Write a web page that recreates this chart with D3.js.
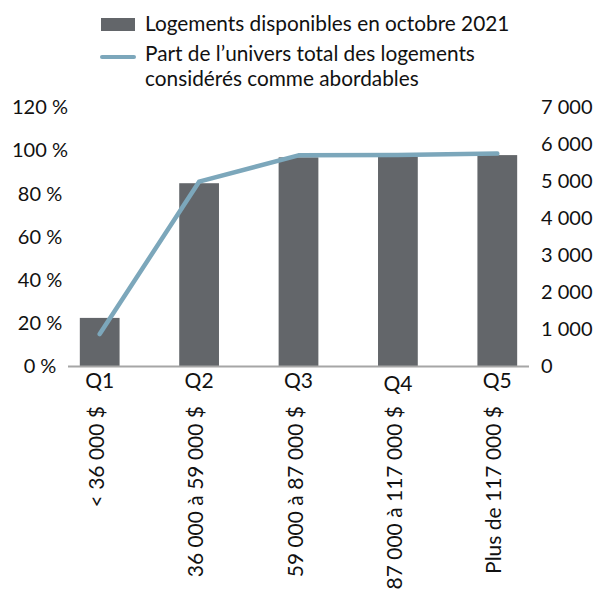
<!DOCTYPE html>
<html>
<head>
<meta charset="utf-8">
<script src="https://cdn.jsdelivr.net/npm/d3@7"></script>
<style>
  body { margin: 0; background: #fff; }
  svg { font-family: Lato, "Open Sans", sans-serif; }
  text { fill: #111; }
</style>
</head>
<body>
<svg width="605" height="590"></svg>
<script>
const QUINTILES = ['Q1', 'Q2', 'Q3', 'Q4', 'Q5'];
const RANGES = ['< 36 000 $', '36 000 à 59 000 $', '59 000 à 87 000 $', '87 000 à 117 000 $', 'Plus de 117 000 $'];
const LOGEMENTS = [1300, 4940, 5640, 5660, 5700];
const PART = [14.8, 85.4, 97.6, 97.8, 98.4];
const PCT_TICKS = [0, 20, 40, 60, 80, 100, 120];
const COUNT_TICKS = [0, 1000, 2000, 3000, 4000, 5000, 6000, 7000];

const BAR_COLOR = '#63666a';
const LINE_COLOR = '#7ca7bb';

let svg = d3.select('svg');
let plotTop = 107, plotBottom = 366;

let x = d3.scaleBand().domain(QUINTILES).range([50, 547]).paddingInner(0.6).paddingOuter(0.3);
let yPct = d3.scaleLinear().domain([0, 120]).range([plotBottom, plotTop]);
let yCount = d3.scaleLinear().domain([0, 7000]).range([plotBottom, plotTop]);

let fmtCount = (v) => d3.format(',')(v).replace(/,/g, ' ');

// left axis labels (centred, like the source)
svg.append('g').selectAll('text')
  .data(PCT_TICKS)
  .enter().append('text')
  .attr('x', 40)
  .attr('y', (d) => yPct(d))
  .attr('dy', '0.36em')
  .attr('text-anchor', 'middle')
  .style('font-size', '20px')
  .text((d) => d + ' %');

// right axis labels
svg.append('g').selectAll('text')
  .data(COUNT_TICKS)
  .enter().append('text')
  .attr('x', 541)
  .attr('y', (d) => yCount(d))
  .attr('dy', '0.36em')
  .style('font-size', '20px')
  .text((d) => fmtCount(d));

// bars
svg.append('g').selectAll('rect')
  .data(LOGEMENTS)
  .enter().append('rect')
  .attr('x', (d, i) => x(QUINTILES[i]))
  .attr('y', (d) => yCount(d))
  .attr('width', x.bandwidth())
  .attr('height', (d) => plotBottom - yCount(d))
  .attr('fill', BAR_COLOR);

// baseline
svg.append('line')
  .attr('x1', 68).attr('x2', 529)
  .attr('y1', plotBottom + 0.5).attr('y2', plotBottom + 0.5)
  .attr('stroke', '#a6a6a6')
  .attr('stroke-width', 2);

// line
let line = d3.line()
  .x((d, i) => x(QUINTILES[i]) + x.bandwidth() / 2)
  .y((d) => yPct(d));
svg.append('path')
  .datum(PART)
  .attr('d', line)
  .attr('fill', 'none')
  .attr('stroke', LINE_COLOR)
  .attr('stroke-width', 4.5)
  .attr('stroke-linecap', 'round')
  .attr('stroke-linejoin', 'round');

// category labels
let cats = svg.append('g').selectAll('g')
  .data(QUINTILES)
  .enter().append('g')
  .attr('transform', (d) => 'translate(' + (x(d) + x.bandwidth() / 2) + ',0)');
cats.append('text')
  .attr('y', (d, i) => i === 3 ? 391 : 388)
  .attr('text-anchor', 'middle')
  .style('font-size', '21px')
  .text((d) => d);
cats.append('text')
  .attr('transform', 'translate(4,406) rotate(-90)')
  .attr('text-anchor', 'end')
  .style('font-size', '21px')
  .text((d, i) => RANGES[i]);

// legend
let legend = svg.append('g');
legend.append('rect')
  .attr('x', 101).attr('y', 18).attr('width', 34).attr('height', 13)
  .attr('fill', BAR_COLOR);
legend.append('line')
  .attr('x1', 102).attr('x2', 134).attr('y1', 57).attr('y2', 57)
  .attr('stroke', LINE_COLOR).attr('stroke-width', 4)
  .attr('stroke-linecap', 'round');
let legTexts = [
  ['Logements disponibles en octobre 2021', 31],
  ['Part de l\u2019univers total des logements', 61],
  ['considérés comme abordables', 86]
];
legend.selectAll('text.leg')
  .data(legTexts)
  .enter().append('text')
  .attr('class', 'leg')
  .attr('x', 145)
  .attr('y', (d) => d[1])
  .style('font-size', '20.8px')
  .text((d) => d[0]);
</script>
</body>
</html>
